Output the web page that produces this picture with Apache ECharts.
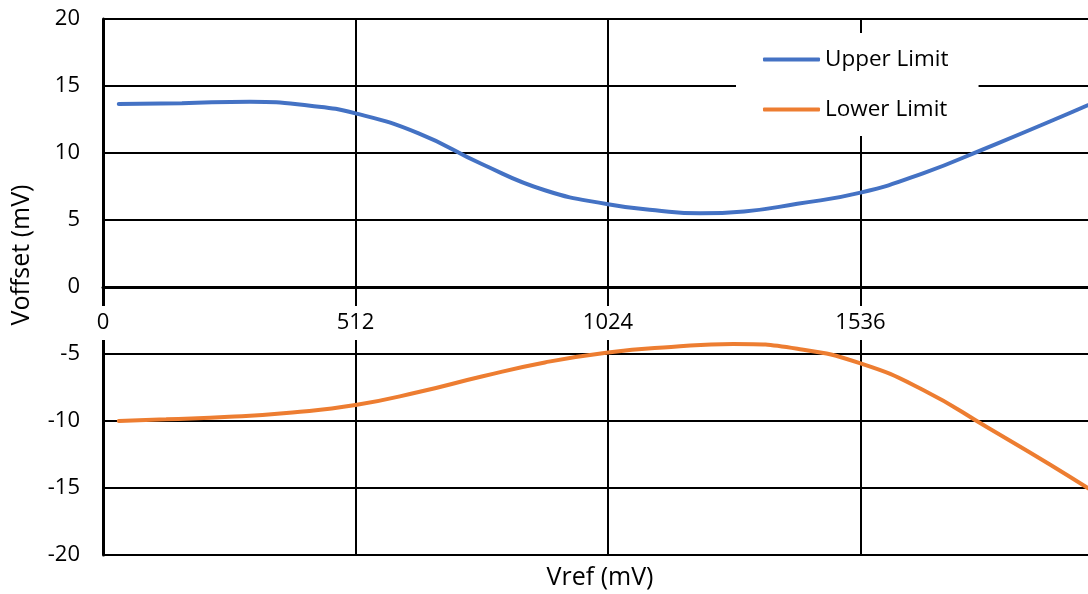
<!DOCTYPE html>
<html>
<head>
<meta charset="utf-8">
<script src="https://cdn.jsdelivr.net/npm/echarts@6/dist/echarts.min.js"></script>
<style>
html,body{margin:0;padding:0;background:#fff;}
#chart{width:1088px;height:594px;}
</style>
</head>
<body>
<div id="chart"></div>
<script>
// Data
var upperX = [32, 160, 298, 420, 512, 640, 768, 896, 1024, 1120, 1211, 1300, 1408, 1536, 1664, 1792, 1920, 2048];
var upperLimit = [13.66, 13.72, 13.83, 13.53, 12.96, 11.47, 9.18, 7.22, 6.18, 5.73, 5.5, 5.64, 6.21, 7.04, 8.5, 10.39, 12.35, 14.4];
var lowerX = [32, 128, 256, 384, 512, 640, 768, 896, 1024, 1152, 1278, 1408, 1536, 1664, 1792, 1920, 2048];
var lowerLimit = [-10.0, -9.87, -9.69, -9.36, -8.81, -7.84, -6.68, -5.63, -4.88, -4.47, -4.25, -4.61, -5.7, -7.7, -10.45, -13.25, -16.2];
var seriesNames = ['Upper Limit', 'Lower Limit'];
var xTitle = 'Vref (mV)';
var yTitle = 'Voffset (mV)';

function pairs(xs, ys) { return xs.map(function (x, i) { return [x, ys[i]]; }); }

var FONT = '"Open Sans", "DejaVu Sans", sans-serif';
var chart = echarts.init(document.getElementById('chart'), null, {renderer: 'canvas'});
chart.setOption({
  animation: false,
  backgroundColor: '#fff',
  grid: {left: 103, top: 19, width: 1010, height: 536, containLabel: false, outerBoundsMode: 'none'},
  xAxis: [{
    type: 'value', min: 0, max: 2048, interval: 512, z: 3,
    position: 'bottom', offset: -268,
    axisLine: {onZero: false, lineStyle: {color: '#000', width: 3}},
    axisTick: {show: false},
    splitLine: {show: false},
    axisLabel: {
      color: '#000', fontFamily: FONT, fontSize: 22, margin: 19,
      backgroundColor: '#fff', padding: [6, 4, 6, 4],
      formatter: function (v) { return String(v); }
    }
  }, {
    type: 'value', min: 0, max: 2048, interval: 512, z: 0,
    axisLine: {show: false}, axisTick: {show: false}, axisLabel: {show: false},
    splitLine: {show: true, lineStyle: {color: '#000', width: 2}}
  }],
  yAxis: {
    type: 'value', min: -20, max: 20, interval: 5, z: 0,
    axisLine: {show: true, onZero: false, lineStyle: {color: '#000', width: 3}},
    axisTick: {show: false},
    splitLine: {show: true, lineStyle: {color: '#000', width: 2}},
    axisLabel: {color: '#000', fontFamily: FONT, fontSize: 22, margin: 23}
  },
  legend: {
    orient: 'vertical', left: 736, top: 33,
    padding: [15, 30, 15, 27],
    backgroundColor: '#fff',
    icon: 'roundRect',
    itemWidth: 57, itemHeight: 4, itemGap: 27,
    textStyle: {color: '#000', fontFamily: FONT, fontSize: 22.5, lineHeight: 20, padding: [0, 0, 0, 0]},
    data: seriesNames
  },
  graphic: [
    {type: 'text', x: 600, y: 578, style: {text: xTitle, fill: '#000', font: '25px ' + FONT, textAlign: 'center', textVerticalAlign: 'middle'}},
    {type: 'text', x: 22, y: 255, rotation: Math.PI / 2, style: {text: yTitle, fill: '#000', font: '25px ' + FONT, textAlign: 'center', textVerticalAlign: 'middle'}}
  ],
  series: [{
    name: seriesNames[0], type: 'line', xAxisIndex: 0, smooth: 0.5, symbol: 'none',
    lineStyle: {color: '#4472C4', width: 4, cap: 'round'}, itemStyle: {color: '#4472C4'},
    data: pairs(upperX, upperLimit)
  }, {
    name: seriesNames[1], type: 'line', xAxisIndex: 0, smooth: 0.5, symbol: 'none',
    lineStyle: {color: '#ED7D31', width: 4, cap: 'round'}, itemStyle: {color: '#ED7D31'},
    data: pairs(lowerX, lowerLimit)
  }]
});
</script>
</body>
</html>
